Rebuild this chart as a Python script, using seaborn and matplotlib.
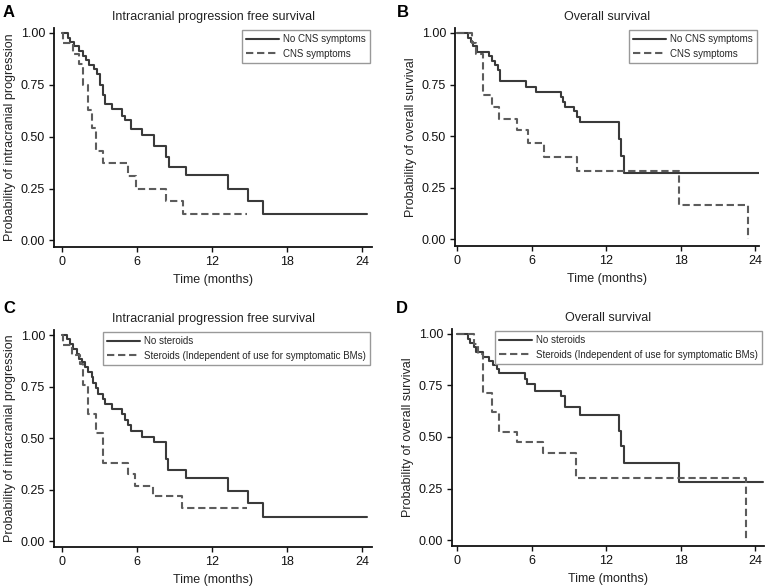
import matplotlib
matplotlib.use("Agg")
import matplotlib.pyplot as plt
import pandas as pd
import seaborn as sns
from matplotlib.lines import Line2D
from matplotlib.ticker import FormatStrFormatter

# ---------------- data ----------------
# Panel A: intracranial PFS by CNS symptoms
a_no_t = [0, 0.48, 0.67, 0.94, 1.37, 1.69, 1.91, 2.18, 2.55, 2.77, 3.04, 3.25, 3.44, 3.98,
          4.78, 5.05, 5.54, 6.40, 7.39, 8.28, 8.55, 9.89, 13.3, 14.9, 16.1, 24.4]
a_no_s = [1.0, 0.978, 0.957, 0.935, 0.913, 0.89, 0.87, 0.848, 0.826, 0.80, 0.75, 0.70, 0.656, 0.635,
          0.60, 0.58, 0.535, 0.509, 0.454, 0.40, 0.352, 0.314, 0.25, 0.19, 0.125, 0.125]
a_cns_t = [0, 0.08, 0.89, 1.37, 1.64, 2.1, 2.4, 2.7, 3.25, 5.27, 5.94, 8.28, 9.70, 14.8]
a_cns_s = [1.0, 0.952, 0.90, 0.85, 0.75, 0.63, 0.54, 0.43, 0.375, 0.31, 0.25, 0.19, 0.125, 0.125]

# Panel B: overall survival by CNS symptoms
b_no_t = [0, 0.88, 1.07, 1.29, 1.6, 2.57, 2.76, 3.03, 3.30, 3.43, 5.52, 6.33, 8.34, 8.53, 8.71,
          9.38, 9.60, 9.87, 13.0, 13.2, 13.4, 24.6]
b_no_s = [1.0, 0.975, 0.955, 0.935, 0.91, 0.887, 0.865, 0.845, 0.82, 0.765, 0.74, 0.715, 0.69, 0.665, 0.64,
          0.62, 0.595, 0.567, 0.485, 0.405, 0.322, 0.322]
b_cns_t = [0, 1.2, 1.5, 2.09, 2.76, 3.38, 4.77, 5.66, 7.0, 9.6, 17.85, 23.4]
b_cns_s = [1.0, 0.95, 0.90, 0.70, 0.64, 0.585, 0.53, 0.465, 0.40, 0.333, 0.167, 0.0]

# Panel C: intracranial PFS by steroid use
c_no_t = [0, 0.40, 0.62, 0.89, 1.16, 1.37, 1.56, 1.83, 2.10, 2.37, 2.50, 2.72, 2.90, 3.25, 3.44,
          3.98, 4.78, 5.05, 5.27, 5.54, 6.40, 7.39, 8.28, 8.47, 9.89, 13.3, 14.9, 16.1, 24.4]
c_no_s = [1.0, 0.98, 0.96, 0.935, 0.91, 0.887, 0.87, 0.847, 0.823, 0.80, 0.77, 0.745, 0.716, 0.69, 0.665,
          0.643, 0.617, 0.59, 0.565, 0.535, 0.508, 0.48, 0.40, 0.345, 0.307, 0.245, 0.185, 0.12, 0.12]
c_st_t = [0, 0.08, 0.8, 1.42, 1.68, 2.09, 2.75, 3.29, 5.29, 5.83, 7.30, 9.57, 14.8]
c_st_s = [1.0, 0.955, 0.905, 0.86, 0.76, 0.62, 0.525, 0.38, 0.325, 0.27, 0.22, 0.163, 0.163]

# Panel D: overall survival by steroid use
d_no_t = [0, 0.85, 1.07, 1.33, 1.55, 2.13, 2.61, 2.93, 3.2, 3.41, 5.47, 5.65, 6.27, 8.4, 8.67,
          9.87, 13.0, 13.2, 13.4, 17.9, 24.6]
d_no_s = [1.0, 0.977, 0.956, 0.935, 0.912, 0.89, 0.87, 0.85, 0.83, 0.81, 0.78, 0.755, 0.725, 0.70, 0.645,
          0.606, 0.53, 0.455, 0.375, 0.28, 0.28]
d_st_t = [0, 1.33, 1.7, 2.13, 2.8, 3.41, 4.8, 6.93, 9.55, 23.25]
d_st_s = [1.0, 0.952, 0.905, 0.715, 0.62, 0.526, 0.477, 0.424, 0.30, 0.0]

x_ticks = [0, 6, 12, 18, 24]
y_ticks = [0.0, 0.25, 0.5, 0.75, 1.0]
titles = ["Intracranial progression free survival", "Overall survival",
          "Intracranial progression free survival", "Overall survival"]
ylabels = ["Probability of intracranial progression", "Probability of overall survival",
           "Probability of intracranial progression", "Probability of overall survival"]
letters = ["A", "B", "C", "D"]
labels_cns = ["No CNS symptoms", "CNS symptoms"]
labels_ster = ["No steroids", "Steroids (Independent of use for symptomatic BMs)"]

# ---------------- style ----------------
sns.set_theme(style="ticks")
plt.rcParams["font.family"] = ["Liberation Sans", "DejaVu Sans"]

W, H = 769, 587
fig = plt.figure(figsize=(W / 100, H / 100), dpi=100)
fig.patch.set_facecolor("white")


def rect(l, r, t, b):
    return [l / W, 1 - b / H, (r - l) / W, (b - t) / H]


SOLID_C = "#3a3a3a"
DASH_C = "#5c5c5c"
LW = 1.5
DASH = (3.5, 1.8)

panels = [
    dict(rect=rect(54, 372, 28, 247), xlim=(-0.64, 24.8), ylim=(-0.032, 1.024),
         t1=a_no_t, s1=a_no_s, t2=a_cns_t, s2=a_cns_s, labels=labels_cns,
         letter_xy=(3, 17)),
    dict(rect=rect(455, 759, 28, 246), xlim=(-0.19, 24.3), ylim=(-0.032, 1.024),
         t1=b_no_t, s1=b_no_s, t2=b_cns_t, s2=b_cns_s, labels=labels_cns,
         letter_xy=(397, 17)),
    dict(rect=rect(54, 372, 330, 547), xlim=(-0.64, 24.8), ylim=(-0.028, 1.026),
         t1=c_no_t, s1=c_no_s, t2=c_st_t, s2=c_st_s, labels=labels_ster,
         letter_xy=(3, 313)),
    dict(rect=rect(452, 764, 329, 546), xlim=(-0.4, 24.7), ylim=(-0.029, 1.024),
         t1=d_no_t, s1=d_no_s, t2=d_st_t, s2=d_st_s, labels=labels_ster,
         letter_xy=(396, 313)),
]

for i, p in enumerate(panels):
    ax = fig.add_axes(p["rect"])
    lab1, lab2 = p["labels"]
    df = pd.concat([
        pd.DataFrame({"t": p["t1"], "s": p["s1"], "group": lab1}),
        pd.DataFrame({"t": p["t2"], "s": p["s2"], "group": lab2}),
    ], ignore_index=True)
    sns.lineplot(data=df, x="t", y="s", hue="group", style="group",
                 palette={lab1: SOLID_C, lab2: DASH_C},
                 dashes={lab1: "", lab2: DASH},
                 drawstyle="steps-post", estimator=None, sort=False,
                 legend=False, linewidth=LW, ax=ax)

    ax.set_xlim(*p["xlim"])
    ax.set_ylim(*p["ylim"])
    ax.set_xticks(x_ticks)
    ax.set_yticks(y_ticks)
    ax.yaxis.set_major_formatter(FormatStrFormatter("%.2f"))
    sns.despine(ax=ax)
    for sp in ("left", "bottom"):
        ax.spines[sp].set_linewidth(1.3)
        ax.spines[sp].set_color("#111111")
    ax.tick_params(axis="both", direction="out", length=3.5, width=1.0,
                   labelsize=9, pad=3, colors="#111111")
    ax.set_xlabel("Time (months)", fontsize=9, labelpad=4, color="#222222")
    ax.set_ylabel(ylabels[i], fontsize=9, labelpad=3.5, color="#222222")
    ax.set_title(titles[i], fontsize=9, pad=5.5, color="#222222")
    ax.grid(False)

    handles = [Line2D([], [], color=SOLID_C, lw=LW),
               Line2D([], [], color=DASH_C, lw=LW, dashes=DASH)]
    leg = ax.legend(handles, [lab1, lab2], loc="upper right", fontsize=7,
                    frameon=True, fancybox=False, framealpha=1,
                    edgecolor="#999999", handlelength=3.4, handletextpad=0.4,
                    borderpad=0.4, labelspacing=0.45, borderaxespad=0.25)
    leg.get_frame().set_linewidth(1.0)

    lx, ly = p["letter_xy"]
    fig.text(lx / W, 1 - ly / H, letters[i], fontsize=12, fontweight="bold",
             ha="left", va="baseline", color="black")

fig.savefig("out.png", dpi=100, facecolor="white")
